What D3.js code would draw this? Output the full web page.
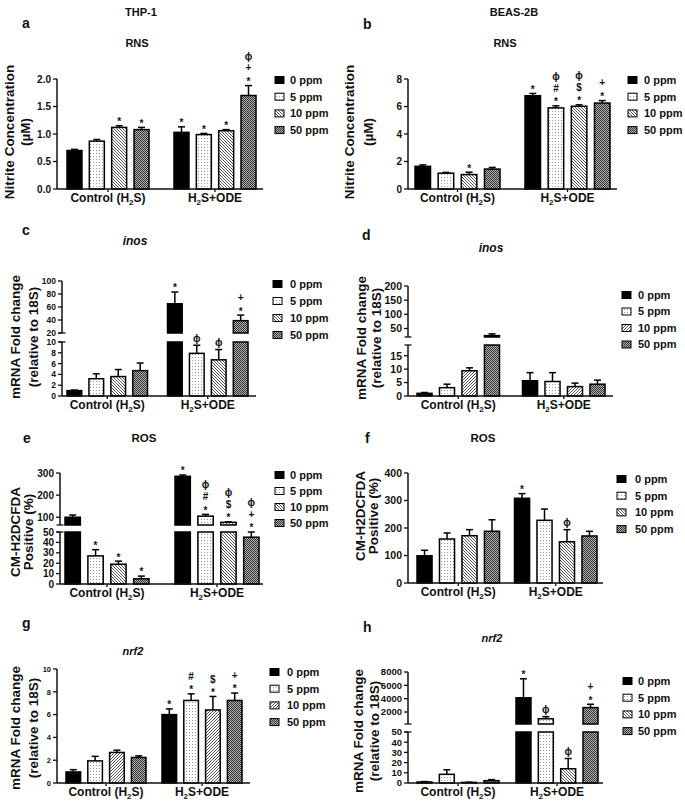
<!DOCTYPE html>
<html><head><meta charset="utf-8">
<script src="https://cdn.jsdelivr.net/npm/d3@7"></script>
<style>
body{margin:0;background:#fff}
svg{display:block}
text{font-family:"Liberation Sans",Arial,Helvetica,sans-serif;font-weight:bold;fill:#111}
</style>
</head><body>
<svg id="chart" width="685" height="804"></svg>
<script>
// ---------------- data ----------------
const groups = ["Control (H₂S)", "H₂S+ODE"];
const doses = ["0 ppm", "5 ppm", "10 ppm", "50 ppm"];

// a: THP-1 RNS (Nitrite, µM)
const aMean = [0.70, 0.87, 1.12, 1.08, 1.03, 0.99, 1.06, 1.70];
const aErr  = [0.02, 0.03, 0.03, 0.04, 0.10, 0.02, 0.02, 0.18];
const aSig  = ["", "", "*", "*", "*", "*", "*", "*+ϕ"];
const aTicks = [0, 0.5, 1.0, 1.5, 2.0];

// b: BEAS-2B RNS
const bMean = [1.65, 1.15, 1.05, 1.45, 6.78, 5.90, 6.02, 6.25];
const bErr  = [0.10, 0.06, 0.17, 0.12, 0.17, 0.15, 0.10, 0.18];
const bSig  = ["", "", "*", "", "*", "*#ϕ", "*$ϕ", "*+"];
const bTicks = [0, 2, 4, 6, 8];

// c: THP-1 inos (broken axis)
const cMean = [1.0, 3.2, 3.6, 4.7, 65, 7.9, 6.7, 39];
const cErr  = [0.1, 0.9, 1.3, 1.4, 18, 1.5, 1.9, 8.5];
const cSig  = ["", "", "", "", "*", "ϕ", "ϕ", "*+"];
const cTicksLow = [0, 2, 4, 6, 8, 10];
const cTicksHigh = [20, 40, 60, 80, 100];

// d: BEAS-2B inos (broken axis)
const dMean = [1.0, 3.1, 9.4, 25, 5.7, 5.4, 3.5, 4.4];
const dErr  = [0.3, 1.3, 1.1, 6, 3.0, 3.3, 1.3, 1.5];
const dSig  = ["", "", "", "", "", "", "", ""];
const dTicksLow = [0, 5, 10, 15];
const dTicksHigh = [50, 100, 150, 200];

// e: THP-1 ROS (broken axis)
const eMean = [100, 27, 19, 5, 285, 105, 77, 45];
const eErr  = [10, 6, 3, 2.6, 6, 8, 2, 5];
const eSig  = ["", "*", "*", "*", "*", "*#ϕ", "*$ϕ", "*+ϕ"];
const eTicksLow = [0, 10, 20, 30, 40, 50];
const eTicksHigh = [100, 200, 300];

// f: BEAS-2B ROS
const fMean = [99, 160, 172, 188, 308, 228, 150, 171];
const fErr  = [20, 22, 22, 42, 17, 41, 44, 17];
const fSig  = ["", "", "", "", "*", "", "ϕ", ""];
const fTicks = [0, 100, 200, 300, 400];

// g: THP-1 nrf2
const gMean = [0.97, 1.94, 2.68, 2.24, 6.0, 7.24, 6.41, 7.24];
const gErr  = [0.2, 0.4, 0.2, 0.14, 0.5, 0.58, 1.18, 0.65];
const gSig  = ["", "", "", "", "*", "*#", "*$", "*+"];
const gTicks = [0, 2, 4, 6, 8, 10];

// h: BEAS-2B nrf2 (broken axis)
const hMean = [1.0, 8.5, 0.6, 2.3, 4130, 980, 14, 2660];
const hErr  = [0.4, 4.5, 0.2, 1.0, 2850, 320, 10, 500];
const hSig  = ["", "", "", "", "*", "ϕ", "ϕ", "*+"];
const hTicksLow = [0, 10, 20, 30, 40, 50];
const hTicksHigh = [2000, 4000, 6000, 8000];

// ---------------- layout ----------------
const panels = [
  {letter:"a", lp:[22,28], title:"RNS", italic:false, tp:[137,47], tfs:11,
   mean:aMean, err:aErr, sig:aSig, hatch:"hatchB",
   ylab:["Nitrite Concentration","(µM)"], ylx:[9,25], yly:132,
   axisX:[57,263], bars:[67,256], gap:25, tfont:10, fmt:d3.format(".1f"),
   segs:[{dom:[0,2], rng:[189,79], ticks:aTicks}],
   leg:{x:275, lx:290, y:80, dy:16.7}},
  {letter:"b", lp:[363,29], title:"RNS", italic:false, tp:[505,47], tfs:11,
   mean:bMean, err:bErr, sig:bSig, hatch:"hatchB",
   ylab:["Nitrite Concentration","(µM)"], ylx:[349,368], yly:132,
   axisX:[408,617], bars:[415,610], gap:25, tfont:10, fmt:d3.format("d"),
   segs:[{dom:[0,8], rng:[189,79], ticks:bTicks}],
   leg:{x:628, lx:644, y:80, dy:16.7}},
  {letter:"c", lp:[22,235], title:"inos", italic:true, tp:[135,245], tfs:12,
   mean:cMean, err:cErr, sig:cSig, hatch:"hatchB",
   ylab:["mRNA Fold change","(relative to 18S)"], ylx:[15,33], yly:337,
   axisX:[62,256], bars:[67,248], gap:20, tfont:8.5, fmt:d3.format("d"),
   segs:[{dom:[0,10], rng:[396,342], ticks:cTicksLow},{dom:[20,100], rng:[333,281], ticks:cTicksHigh}],
   leg:{x:273, lx:290, y:284, dy:17}},
  {letter:"d", lp:[362,240], title:"inos", italic:true, tp:[491,252], tfs:12,
   mean:dMean, err:dErr, sig:dSig, hatch:"hatchF",
   ylab:["mRNA Fold change","(relative to 18S)"], ylx:[361,376], yly:338,
   axisX:[408,613], bars:[417,605], gap:23, tfont:10.5, fmt:d3.format("d"),
   segs:[{dom:[0,19], rng:[396,345], ticks:dTicksLow},{dom:[20,200], rng:[337,286], ticks:dTicksHigh}],
   leg:{x:622, lx:638, y:295, dy:16.5}},
  {letter:"e", lp:[23,443], title:"ROS", italic:false, tp:[144,442], tfs:11.5,
   mean:eMean, err:eErr, sig:eSig, hatch:"hatchB",
   ylab:["CM-H2DCFDA","Positive (%)"], ylx:[15,28], yly:532,
   axisX:[60,263], bars:[65,259], gap:26, tfont:10, fmt:d3.format("d"),
   segs:[{dom:[0,50], rng:[584,532], ticks:eTicksLow},{dom:[65,300], rng:[525,473], ticks:eTicksHigh}],
   leg:{x:275, lx:290, y:475, dy:16}},
  {letter:"f", lp:[365,443], title:"ROS", italic:false, tp:[483,442], tfs:11.5,
   mean:fMean, err:fErr, sig:fSig, hatch:"hatchB",
   ylab:["CM-H2DCFDA","Positive (%)"], ylx:[360,373], yly:516,
   axisX:[408,603], bars:[417,597], gap:15, tfont:10.5, fmt:d3.format("d"),
   segs:[{dom:[0,400], rng:[583,473], ticks:fTicks}],
   leg:{x:617, lx:635, y:479, dy:16.7}},
  {letter:"g", lp:[22,628], title:"nrf2", italic:true, tp:[133,655], tfs:11,
   mean:gMean, err:gErr, sig:gSig, hatch:"hatchF",
   ylab:["mRNA Fold change","(relative to 18S)"], ylx:[15,33], yly:728,
   axisX:[57,250], bars:[66,242], gap:16, tfont:7.5, fmt:d3.format("d"),
   segs:[{dom:[0,10], rng:[783,669], ticks:gTicks}],
   leg:{x:270, lx:287, y:672, dy:16.7}},
  {letter:"h", lp:[363,632], title:"nrf2", italic:true, tp:[492,642], tfs:11,
   mean:hMean, err:hErr, sig:hSig, hatch:"hatchB",
   ylab:["mRNA Fold change","(relative to 18S)"], ylx:[358,374], yly:731,
   axisX:[408,603], bars:[417,598], gap:17, tfont:9.5, fmt:d3.format("d"),
   segs:[{dom:[0,50], rng:[783,732], ticks:hTicksLow},{dom:[200,8000], rng:[724,672], ticks:hTicksHigh}],
   leg:{x:623, lx:638, y:681, dy:16.7}}
];

// ---------------- drawing ----------------
const svg = d3.select("#chart");
svg.append("rect").attr("width",685).attr("height",804).attr("fill","#fff");
const defs = svg.append("defs");
// dotted (5 ppm)
const pd = defs.append("pattern").attr("id","dots").attr("patternUnits","userSpaceOnUse").attr("width",3).attr("height",3);
pd.append("rect").attr("width",3).attr("height",3).attr("fill","#fff");
pd.append("rect").attr("width",1).attr("height",1).attr("fill","#9a9a9a");
// hatch back-slash (10 ppm)
const hb = defs.append("pattern").attr("id","hatchB").attr("patternUnits","userSpaceOnUse").attr("width",3).attr("height",3);
hb.append("rect").attr("width",3).attr("height",3).attr("fill","#fff");
hb.append("path").attr("d","M0,0L3,3M-1,2L1,4M2,-1L4,1").attr("stroke","#444").attr("stroke-width",0.9);
// hatch forward-slash
const hf = defs.append("pattern").attr("id","hatchF").attr("patternUnits","userSpaceOnUse").attr("width",3).attr("height",3);
hf.append("rect").attr("width",3).attr("height",3).attr("fill","#fff");
hf.append("path").attr("d","M0,3L3,0M-1,1L1,-1M2,4L4,2").attr("stroke","#444").attr("stroke-width",0.9);
// checker (50 ppm)
const pc = defs.append("pattern").attr("id","checker").attr("patternUnits","userSpaceOnUse").attr("width",2).attr("height",2);
pc.append("rect").attr("width",2).attr("height",2).attr("fill","#b0b0b0");
pc.append("rect").attr("width",1).attr("height",1).attr("fill","#333");
pc.append("rect").attr("x",1).attr("y",1).attr("width",1).attr("height",1).attr("fill","#333");

// headers
svg.append("text").attr("x",141).attr("y",16).attr("text-anchor","middle").attr("font-size",11).text("THP-1");
svg.append("text").attr("x",514).attr("y",16).attr("text-anchor","middle").attr("font-size",11).text("BEAS-2B");

function subLabel(sel, label) {
  const parts = label.split("₂");
  parts.forEach((part, i) => {
    if (i > 0) {
      sel.append("tspan").attr("font-size", 8).attr("dy", 3).text("2");
      sel.append("tspan").attr("dy", -3).text(part);
    } else {
      sel.append("tspan").text(part);
    }
  });
}

const markShift = {"*":5.7, "+":3.3, "#":3.6, "$":3.6, "ϕ":2.8};

function drawPanel(p) {
  const g = svg.append("g");
  const W = p.bars[1] - p.bars[0];
  const band = (W - p.gap) / 2;
  const pI = p.gap / (band + p.gap);
  const x0 = d3.scaleBand().domain(groups).range(p.bars).paddingInner(pI).paddingOuter(0);
  const x1 = d3.scaleBand().domain(doses).range([0, x0.bandwidth()]).paddingInner(0.33).paddingOuter(0);
  const ys = p.segs.map(s => d3.scaleLinear().domain(s.dom).range(s.rng));
  const fills = ["#000", "url(#dots)", "url(#" + p.hatch + ")", "url(#checker)"];
  const rows = [];
  groups.forEach((grp, gi) => doses.forEach((d, di) => {
    const k = gi * 4 + di;
    rows.push({grp, d, di, v: p.mean[k], e: p.err[k], s: p.sig[k]});
  }));
  const bw = x1.bandwidth();

  // bars in every axis segment
  p.segs.forEach((s, si) => {
    const y = ys[si];
    rows.forEach(r => {
      if (r.v <= s.dom[0]) return;
      const top = Math.min(r.v, s.dom[1]);
      g.append("rect")
        .attr("x", x0(r.grp) + x1(r.d)).attr("width", bw)
        .attr("y", y(top)).attr("height", y(s.dom[0]) - y(top))
        .attr("fill", fills[r.di]).attr("stroke", "#000").attr("stroke-width", 1.5);
    });
  });

  // error bars + significance marks
  rows.forEach(r => {
    let si = p.segs.findIndex(s => r.v >= s.dom[0] && r.v <= s.dom[1]);
    if (si < 0) si = 0;
    const y = ys[si];
    const cx = x0(r.grp) + x1(r.d) + bw / 2;
    const y1 = y(r.v), y2 = y(Math.min(r.v + r.e, p.segs[si].dom[1]));
    g.append("line").attr("x1", cx).attr("x2", cx).attr("y1", y1).attr("y2", y2)
      .attr("stroke", "#000").attr("stroke-width", 1.5);
    g.append("line").attr("x1", cx - 3.5).attr("x2", cx + 3.5).attr("y1", y2).attr("y2", y2)
      .attr("stroke", "#000").attr("stroke-width", 1.5);
    const marks = Array.from(r.s);
    if (marks.length) {
      const t = g.append("text").attr("text-anchor", "middle").attr("font-size", 10);
      marks.forEach((m, i) => {
        const cy = y2 - 6.3 - i * 11.2;
        t.append("tspan").attr("x", cx).attr("y", cy + (markShift[m] || 3.3)).text(m);
      });
    }
  });

  // y axis segments
  const ax = p.axisX[0];
  p.segs.forEach((s, si) => {
    const y = ys[si];
    g.append("line").attr("x1", ax).attr("x2", ax).attr("y1", s.rng[0]).attr("y2", s.rng[1])
      .attr("stroke", "#111").attr("stroke-width", 1.5);
    s.ticks.forEach(t => {
      g.append("line").attr("x1", ax - 4).attr("x2", ax).attr("y1", y(t)).attr("y2", y(t))
        .attr("stroke", "#111").attr("stroke-width", 1.3);
      g.append("text").attr("x", ax - 6).attr("y", y(t)).attr("dy", "0.36em")
        .attr("text-anchor", "end").attr("font-size", p.tfont).text(p.fmt(t));
    });
    if (p.segs.length > 1) {
      const yb = si === 0 ? s.rng[1] : s.rng[0];
      g.append("line").attr("x1", ax - 3.5).attr("x2", ax + 3.5).attr("y1", yb).attr("y2", yb)
        .attr("stroke", "#111").attr("stroke-width", 1.3);
    }
  });

  // x axis
  const y0 = p.segs[0].rng[0];
  g.append("line").attr("x1", ax).attr("x2", p.axisX[1]).attr("y1", y0).attr("y2", y0)
    .attr("stroke", "#111").attr("stroke-width", 1.5);
  groups.forEach(grp => {
    const cx = x0(grp) + x0.bandwidth() / 2;
    g.append("line").attr("x1", cx).attr("x2", cx).attr("y1", y0).attr("y2", y0 + 3)
      .attr("stroke", "#111").attr("stroke-width", 1.3);
    const t = g.append("text").attr("x", cx).attr("y", y0 + 13).attr("text-anchor", "middle").attr("font-size", 12);
    subLabel(t, grp);
  });

  // y label
  p.ylab.forEach((lab, i) => {
    g.append("text").attr("transform", `translate(${p.ylx[i]},${p.yly}) rotate(-90)`)
      .attr("dy", "0.35em").attr("text-anchor", "middle").attr("font-size", 13.5).text(lab);
  });

  // panel letter and title
  g.append("text").attr("x", p.lp[0]).attr("y", p.lp[1]).attr("font-size", 14).text(p.letter);
  g.append("text").attr("x", p.tp[0]).attr("y", p.tp[1]).attr("text-anchor", "middle")
    .attr("font-size", p.tfs).attr("font-style", p.italic ? "italic" : "normal").text(p.title);

  // legend
  doses.forEach((d, di) => {
    const yy = p.leg.y + di * p.leg.dy;
    g.append("rect").attr("x", p.leg.x).attr("y", yy - 3.5).attr("width", 9).attr("height", 7)
      .attr("fill", fills[di]).attr("stroke", "#000").attr("stroke-width", 1);
    g.append("text").attr("x", p.leg.lx).attr("y", yy).attr("dy", "0.36em").attr("font-size", 11).text(d);
  });
}

panels.forEach(drawPanel);
</script>
</body></html>
